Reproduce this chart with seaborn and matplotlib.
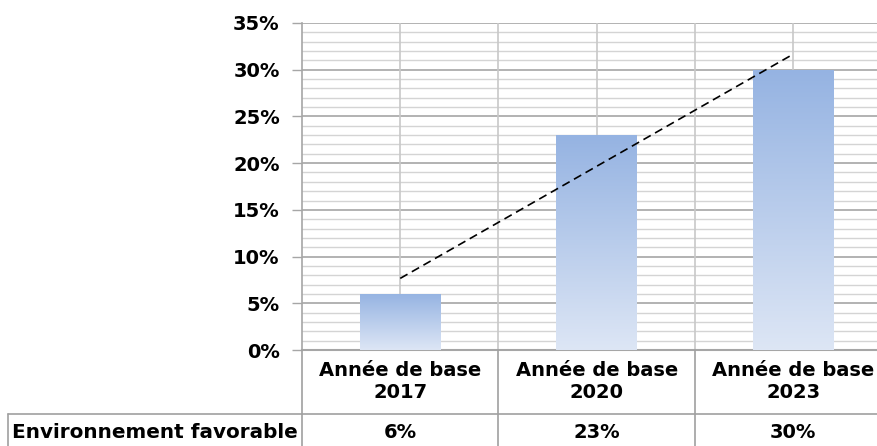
import numpy as np
import pandas as pd
import matplotlib
matplotlib.use("Agg")
import matplotlib.pyplot as plt
import matplotlib.transforms as mtransforms
from matplotlib.colors import LinearSegmentedColormap
import seaborn as sns

# ---- data ----
categories = ["Année de base\n2017", "Année de base\n2020", "Année de base\n2023"]
values = [6, 23, 30]
value_labels = ["6%", "23%", "30%"]
row_label = "Environnement favorable"
yticks = [0, 5, 10, 15, 20, 25, 30, 35]
ytick_labels = ["0%", "5%", "10%", "15%", "20%", "25%", "30%", "35%"]

sns.set_theme(style="white")
plt.rcParams['font.family'] = ['DejaVu Sans']
plt.rcParams['text.color'] = 'black'

W, H = 878, 446
fig = plt.figure(figsize=(W / 100, H / 100), dpi=100)
ax_left, ax_right, ax_top, ax_bot = 302, 878, 23, 350
ax = fig.add_axes([ax_left / W, (H - ax_bot) / H, (ax_right - ax_left) / W, (ax_bot - ax_top) / H])

df = pd.DataFrame({"cat": categories, "val": values})
sns.barplot(data=df, x="cat", y="val", ax=ax, width=0.41, color="#9db6e2", saturation=1, zorder=3)

cat_w = 196.5
ax.set_xlim(-0.5, -0.5 + (ax_right - ax_left) / cat_w)
ax.set_ylim(0, 35)

# gradient fill for bars
cmap = LinearSegmentedColormap.from_list("g", ["#dde6f5", "#95b3e2"])
grad = np.linspace(0, 1, 256).reshape(-1, 1)
for p in ax.patches:
    x0, y0, w, h = p.get_x(), p.get_y(), p.get_width(), p.get_height()
    im = ax.imshow(grad, extent=[x0, x0 + w, y0, y0 + h], origin="lower", cmap=cmap,
                   aspect="auto", zorder=3.1)
    im.set_clip_path(p)
    p.set_edgecolor("none")
ax.set_xlim(-0.5, -0.5 + (ax_right - ax_left) / cat_w)
ax.set_ylim(0, 35)

FS = 14
# gridlines
ax.set_yticks(yticks)
ax.set_yticklabels(ytick_labels, fontsize=FS, fontweight="bold", color="black")
ax.set_yticks(np.arange(0, 36, 1), minor=True)
ax.grid(axis="y", which="minor", color="#d4d4d4", lw=1.0, zorder=0)
ax.grid(axis="y", which="major", color="#a6a6a6", lw=1.2, zorder=0.5)
ax.set_xticks([-0.5, 0, 0.5, 1, 1.5, 2], minor=False)
for xv in [0, 0.5, 1, 1.5, 2]:
    ax.axvline(xv, color="#c8c8c8", lw=1.2, zorder=0.6)
ax.set_xticklabels([])
ax.tick_params(axis="x", length=0)
ax.tick_params(axis="y", which="major", length=7, width=1, color="#a6a6a6", pad=9, direction="out", left=True)
ax.tick_params(axis="y", which="minor", length=0)
ax.set_xlabel("")
ax.set_ylabel("")
for s in ["top", "right"]:
    ax.spines[s].set_visible(False)
ax.spines["left"].set_color("#a6a6a6")
ax.spines["left"].set_linewidth(1.2)
ax.spines["bottom"].set_color("#a6a6a6")
ax.spines["bottom"].set_linewidth(1.5)

# linear trendline
xs = np.arange(len(values))
slope, intercept = np.polyfit(xs, values, 1)
ax.plot([xs[0], xs[-1]], [intercept + slope * xs[0], intercept + slope * xs[-1]],
        ls=(0, (5, 3)), color="black", lw=1.2, zorder=4)

# data table below the axis
trans = mtransforms.blended_transform_factory(ax.transData, ax.transAxes)
ah = ax_bot - ax_top
def ay(py):
    return -(py - ax_bot) / ah

line_kw = dict(color="#a0a0a0", lw=1.2, clip_on=False, transform=trans, zorder=5)
x_left_box = -0.5 + (8 - ax_left) / cat_w
x_right = ax.get_xlim()[1]
ax.plot([x_left_box, x_right], [ay(414), ay(414)], **line_kw)
ax.plot([x_left_box, x_left_box], [ay(414), ay(446)], **line_kw)
for xb in [-0.5, 0.5, 1.5]:
    ax.plot([xb, xb], [ay(350), ay(446)], **line_kw)

for i, (c, v) in enumerate(zip(categories, value_labels)):
    ax.text(i, ay(382), c, ha="center", va="center", fontsize=FS, fontweight="bold",
            transform=trans, linespacing=1.2, color="black")
    ax.text(i, ay(433), v, ha="center", va="center", fontsize=FS, fontweight="bold",
            transform=trans, color="black")
ax.text(-0.5 + (12 - ax_left) / cat_w, ay(433), row_label, ha="left", va="center",
        fontsize=FS + 0.4, fontweight="bold", transform=trans, color="black")

fig.savefig("out.png", dpi=100)
